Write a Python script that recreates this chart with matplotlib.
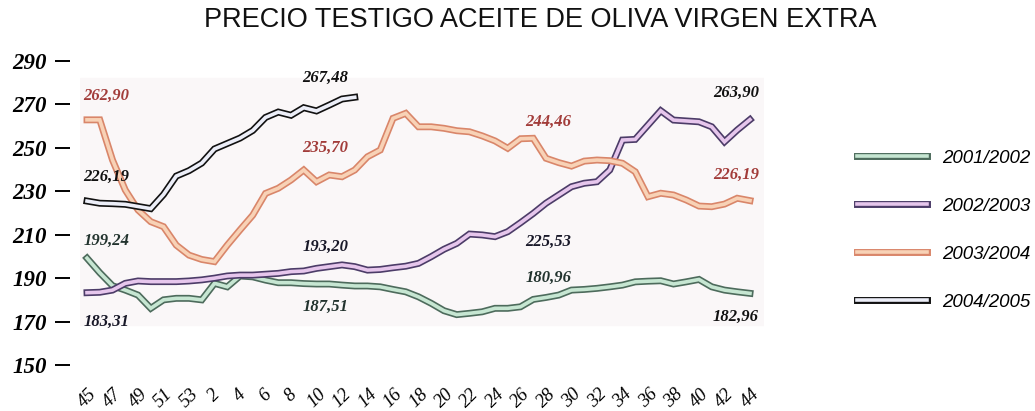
import matplotlib
matplotlib.use("Agg")
import matplotlib.pyplot as plt
import matplotlib.patheffects as pe

# semanas de campaña: 45..53 y 1..44
weeks = list(range(45, 54)) + list(range(1, 45))
tick_labels = [str(w) for w in weeks[::2]]

s_2001 = [199.2, 192.5, 186.5, 184.5, 182.2, 176.1, 180.0, 180.7, 180.7, 180.0,
          187.6, 186.0, 191.0, 190.6, 189.1, 187.9, 187.9, 187.5, 187.3, 187.3,
          186.8, 186.4, 186.4, 186.0, 184.8, 183.7, 181.4, 178.4, 175.0, 173.2,
          173.8, 174.5, 176.1, 176.1, 176.8, 180.2, 181.1, 182.2, 184.5, 184.8,
          185.3, 186.0, 186.8, 188.3, 188.6, 188.8, 187.3, 188.3, 189.4, 186.0,
          184.5, 183.7, 183.0]
s_2002 = [183.3, 183.5, 184.5, 187.6, 188.7, 188.4, 188.4, 188.4, 188.7, 189.2,
          190.0, 191.0, 191.4, 191.4, 191.8, 192.2, 193.0, 193.3, 194.5, 195.3,
          196.1, 195.3, 193.7, 194.0, 194.8, 195.5, 196.8, 199.9, 203.3, 206.0,
          210.3, 209.9, 209.1, 211.4, 215.5, 219.8, 224.5, 228.3, 232.1, 233.7,
          234.4, 239.8, 253.6, 253.9, 260.5, 267.1, 262.8, 262.4, 262.0, 259.7,
          252.8, 258.2, 263.0]
s_2003 = [262.9, 262.9, 244.4, 230.6, 221.4, 216.0, 213.7, 205.2, 200.6, 198.6,
          197.6, 205.2, 212.2, 219.0, 229.0, 231.4, 235.2, 239.8, 234.4, 237.5,
          236.7, 239.8, 245.9, 249.0, 263.6, 265.9, 259.7, 259.7, 259.0, 257.9,
          257.4, 255.5, 253.2, 249.8, 254.2, 254.4, 245.2, 243.2, 241.6, 243.9,
          244.4, 244.1, 242.9, 239.0, 227.5, 229.1, 228.3, 226.0, 223.2, 222.9,
          224.1, 226.8, 225.7]
s_2004 = [225.5, 224.5, 224.3, 224.0, 223.0, 222.0, 228.5, 237.0, 239.5, 243.0,
          249.5, 252.0, 254.5, 258.0, 264.0, 266.5, 265.0, 268.5, 267.0, 269.7,
          272.5, 273.3]

series = [
    ("2001/2002", s_2001, "#c6e6d2", "#4d6b5c"),
    ("2002/2003", s_2002, "#e6c6ec", "#4c3c68"),
    ("2003/2004", s_2003, "#f8d2b6", "#d9866a"),
    ("2004/2005", s_2004, "#eceef8", "#111111"),
]

# etiquetas de valor: texto, indice x, valor y, color
labels_txt = ["262,90", "226,19", "199,24", "183,31", "267,48", "235,70", "193,20",
              "187,51", "244,46", "225,53", "180,96", "263,90", "226,19", "182,96"]
labels_x = [-0.3, -0.3, -0.3, -0.3, 16.9, 16.9, 16.9, 16.9, 34.4, 34.4, 34.4, 49.1, 49.1, 49.1]
labels_y = [273.9, 236.5, 207.1, 169.8, 282.2, 249.8, 204.5, 176.8, 262.0, 206.8, 189.9,
            275.1, 237.5, 172.2]
labels_c = ["#a23c3a", "#111111", "#22332e", "#181828", "#111111", "#a23c3a", "#181828",
            "#22332e", "#a23c3a", "#181828", "#22332e", "#111111", "#a23c3a", "#111111"]

fig = plt.figure(figsize=(10.35, 4.11), dpi=100)
ax = fig.add_axes([80 / 1035, 1 - 365 / 411, 684 / 1035, 304 / 411])
ax.set_facecolor("none")
ax.set_xlim(-0.55, 53.1)
ax.set_ylim(150, 290)

ax.axhspan(168.4, 282.2, color="#faf7f8", zorder=0)

for name, vals, fill, edge in series:
    ax.plot(range(len(vals)), vals, color=fill, lw=2.6, label=name,
            solid_joinstyle="miter", zorder=3,
            path_effects=[pe.Stroke(linewidth=5.0, foreground=edge), pe.Normal()])

for t, x, y, c in zip(labels_txt, labels_x, labels_y, labels_c):
    ax.text(x, y, t, ha="left", va="center", fontsize=12, color=c,
            family="Liberation Serif", fontweight="bold", fontstyle="italic", zorder=4)

for side in ["top", "right", "bottom", "left"]:
    ax.spines[side].set_visible(False)
ax.spines["left"].set_position(("outward", 7.2))

ax.set_yticks(range(150, 291, 20))
ax.tick_params(axis="y", length=10.8, width=1.4, pad=6)
for lab in ax.get_yticklabels():
    lab.set_family("Liberation Serif")
    lab.set_fontweight("bold")
    lab.set_fontstyle("italic")
    lab.set_fontsize(16.5)

ax.set_xticks(range(0, len(weeks), 2))
ax.set_xticklabels(tick_labels, rotation=45, ha="center", va="top",
                   family="Liberation Serif", fontstyle="italic", fontsize=13.5)
ax.tick_params(axis="x", length=0, pad=15)

fig.text(0.522, 0.952, "PRECIO TESTIGO ACEITE DE OLIVA VIRGEN EXTRA", ha="center", va="center",
         fontsize=19.5, family="Liberation Sans", color="#111111")

leg = ax.legend(loc="center left", bbox_to_anchor=(0.812, 0.44), bbox_transform=fig.transFigure,
                frameon=False, handlelength=3.7, labelspacing=1.65, handletextpad=0.8,
                prop={"family": "Liberation Sans", "style": "italic", "size": 13.5})

fig.savefig("out.png", dpi=100)
